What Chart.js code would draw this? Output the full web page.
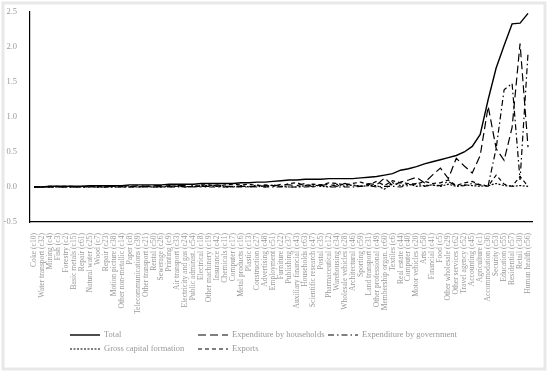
<!DOCTYPE html>
<html>
<head>
<meta charset="utf-8">
<script src="https://cdn.jsdelivr.net/npm/chart.js@4"></script>
<style>
  html, body { margin: 0; padding: 0; background: #fff; }
  #wrap { width: 550px; height: 374px; position: relative; }
</style>
</head>
<body>
<div id="wrap"><canvas id="chart" width="550" height="374"></canvas></div>
<script>
const categories = [
  "Coke (c10)", "Water transport (c32)", "Mining (c4)", "Fish (c3)", "Forestry (c2)",
  "Basic metals (c15)", "Repair (c61)", "Natural water (c25)", "Wood (c7)", "Repair (c23)",
  "Motion picture (c38)", "Other non-metallic (c14)", "Paper (c8)", "Telecommunications (c39)", "Other transport (c21)",
  "Rental (c50)", "Sewerage (c26)", "Printing (c9)", "Air transport (c33)", "Electricity and gas (c24)",
  "Public administ. (c54)", "Electrical (c18)", "Other machinery (c19)", "Insurance (c42)", "Chemicals (c11)",
  "Computer (c17)", "Metal products (c16)", "Plastic (c13)", "Construction (c27)", "Advertising (c48)",
  "Employment (c51)", "Furniture (c22)", "Publishing (c37)", "Auxiliary financial (c43)", "Households (c63)",
  "Scientific research (c47)", "Postal (c35)", "Pharmaceutical (c12)", "Warehousing (c34)", "Wholesale vehicles (c28)",
  "Architectural (c46)", "Sporting (c59)", "Land transport (c31)", "Other professional (c49)", "Membership organ. (c60)",
  "Textiles (c6)", "Real estate (c44)", "Computer (c40)", "Motor vehicles (c20)", "Arts (c58)",
  "Financial (c41)", "Food (c5)", "Other wholesale (c29)", "Other services (c62)", "Travel agency (c52)",
  "Accounting (c45)", "Agriculture (c1)", "Accommodation (c36)", "Security (c53)", "Education (c55)",
  "Residential (c57)", "Retail (c30)", "Human health (c56)"
];

const total = [
  0.00, 0.00, 0.01, 0.01, 0.01, 0.01, 0.01, 0.02, 0.02, 0.02,
  0.02, 0.02, 0.03, 0.03, 0.03, 0.03, 0.03, 0.04, 0.04, 0.04,
  0.04, 0.05, 0.05, 0.05, 0.05, 0.05, 0.06, 0.06, 0.07, 0.07,
  0.08, 0.09, 0.10, 0.10, 0.11, 0.11, 0.11, 0.12, 0.12, 0.12,
  0.12, 0.13, 0.14, 0.15, 0.17, 0.19, 0.24, 0.26, 0.29, 0.33,
  0.36, 0.39, 0.42, 0.45, 0.50, 0.58, 0.75, 1.25, 1.70, 2.02,
  2.33, 2.34, 2.48
];

const households = [
  0.00, 0.00, 0.00, 0.00, 0.00, 0.00, 0.01, 0.00, 0.00, 0.01,
  0.01, 0.00, 0.00, 0.02, 0.01, 0.02, 0.02, 0.01, 0.02, 0.02,
  0.00, 0.01, 0.01, 0.03, 0.01, 0.01, 0.01, 0.01, 0.00, 0.02,
  0.01, 0.04, 0.03, 0.02, 0.05, 0.00, 0.02, 0.04, 0.01, 0.05,
  0.02, 0.01, 0.05, 0.03, 0.13, 0.02, 0.07, 0.10, 0.14, 0.06,
  0.17, 0.27, 0.12, 0.41, 0.30, 0.20, 0.45, 1.15, 0.55, 0.38,
  0.85, 2.05, 0.57
];

const government = [
  0.00, 0.00, 0.00, 0.00, 0.00, 0.00, 0.00, 0.00, 0.00, 0.00,
  0.00, 0.00, 0.00, 0.00, 0.00, 0.00, 0.01, 0.00, 0.00, 0.00,
  0.02, 0.00, 0.00, 0.00, 0.00, 0.00, 0.00, 0.00, 0.01, 0.00,
  0.00, 0.00, 0.00, 0.00, 0.00, 0.01, 0.03, 0.00, 0.00, 0.00,
  0.00, 0.01, 0.02, 0.00, 0.01, 0.01, 0.00, 0.02, 0.05, 0.01,
  0.03, 0.02, 0.08, 0.01, 0.02, 0.05, 0.03, 0.02, 0.55, 1.39,
  1.48, 0.10, 1.91
];

const capital = [
  0.00, 0.00, 0.00, 0.00, 0.00, 0.00, 0.00, 0.01, 0.00, 0.00,
  0.00, 0.01, 0.00, 0.00, 0.01, 0.00, 0.00, 0.00, 0.01, 0.00,
  0.01, 0.02, 0.02, 0.01, 0.00, 0.00, 0.02, 0.00, 0.03, 0.00,
  0.03, 0.01, 0.00, 0.00, 0.02, 0.03, 0.01, 0.00, 0.04, 0.01,
  0.03, 0.01, 0.02, 0.02, -0.03, 0.06, 0.02, 0.04, 0.01, 0.02,
  0.03, 0.01, 0.04, 0.01, 0.03, 0.02, 0.01, 0.02, 0.05, 0.02,
  0.01, 0.02, 0.01
];

const exportsData = [
  0.00, 0.00, 0.01, 0.01, 0.01, 0.01, 0.00, 0.01, 0.01, 0.00,
  0.01, 0.01, 0.02, 0.00, 0.01, 0.00, 0.00, 0.02, 0.01, 0.01,
  0.00, 0.03, 0.03, 0.01, 0.03, 0.04, 0.03, 0.04, 0.02, 0.03,
  0.02, 0.01, 0.05, 0.06, 0.02, 0.04, 0.03, 0.06, 0.05, 0.03,
  0.05, 0.07, 0.03, 0.08, 0.02, 0.09, 0.06, 0.05, 0.04, 0.08,
  0.05, 0.06, 0.10, 0.02, 0.06, 0.08, 0.03, 0.01, 0.17, 0.04,
  0.01, 0.15, 0.01
];

const yTicks = [-0.5, 0.0, 0.5, 1.0, 1.5, 2.0, 2.5];

const FONT = "'Liberation Serif', 'DejaVu Serif', serif";
const GREY = "#999999";

// legend slots: [x of line start, y]
const legendSlots = [[70, 335], [198, 335], [328, 335], [70, 349], [198, 349]];

const framePlugin = {
  id: "frame",
  beforeDraw(chart) {
    const ctx = chart.ctx;
    ctx.save();
    ctx.fillStyle = "#fff";
    ctx.fillRect(0, 0, chart.width, chart.height);
    ctx.strokeStyle = "#e8e8e8";
    ctx.lineWidth = 3;
    ctx.strokeRect(3, 3, 542, 366);
    ctx.restore();
  },
  afterDraw(chart) {
    const ctx = chart.ctx;
    ctx.save();
    chart.data.datasets.forEach((ds, i) => {
      const [x, y] = legendSlots[i];
      ctx.strokeStyle = "#000";
      ctx.lineWidth = ds.borderWidth;
      ctx.setLineDash(ds.borderDash || []);
      ctx.beginPath();
      ctx.moveTo(x, y);
      ctx.lineTo(x + 30, y);
      ctx.stroke();
      ctx.setLineDash([]);
      ctx.fillStyle = GREY;
      ctx.font = "8.5px " + FONT;
      ctx.textBaseline = "middle";
      ctx.fillText(ds.label, x + 34, y);
    });
    ctx.restore();
  }
};

function line(label, data, dash, width) {
  return {
    label: label,
    data: data,
    borderColor: "#000",
    backgroundColor: "#000",
    borderWidth: width,
    borderDash: dash,
    pointRadius: 0,
    tension: 0,
    fill: false
  };
}

new Chart(document.getElementById("chart"), {
  type: "line",
  data: {
    labels: categories,
    datasets: [
      line("Total", total, [], 1.4),
      line("Expenditure by households", households, [8, 4], 1.2),
      line("Expenditure by government", government, [6, 3, 1.5, 3], 1.2),
      line("Gross capital formation", capital, [2, 1.5], 1.2),
      line("Exports", exportsData, [4, 3], 1.2)
    ]
  },
  options: {
    responsive: false,
    animation: false,
    layout: { padding: { top: 12, right: 18, bottom: 0, left: 0 } },
    plugins: {
      legend: { display: false },
      tooltip: { enabled: false }
    },
    scales: {
      x: {
        offset: true,
        grid: { display: false },
        border: { display: true, color: "#000", width: 1.2 },
        ticks: {
          autoSkip: false,
          minRotation: 90,
          maxRotation: 90,
          padding: 3,
          color: GREY,
          font: { family: FONT, size: 7.6 }
        },
        afterFit(scale) { scale.height = 152; }
      },
      y: {
        min: -0.5,
        max: 2.5,
        grid: { display: false },
        border: { display: true, color: "#000", width: 1.2 },
        afterBuildTicks(scale) { scale.ticks = yTicks.map(v => ({ value: v })); },
        ticks: {
          padding: 5,
          color: GREY,
          font: { family: FONT, size: 8.5 },
          callback: v => Number(v).toFixed(1)
        },
        afterFit(scale) { scale.width = 30; }
      }
    }
  },
  plugins: [framePlugin]
});
</script>
</body>
</html>
